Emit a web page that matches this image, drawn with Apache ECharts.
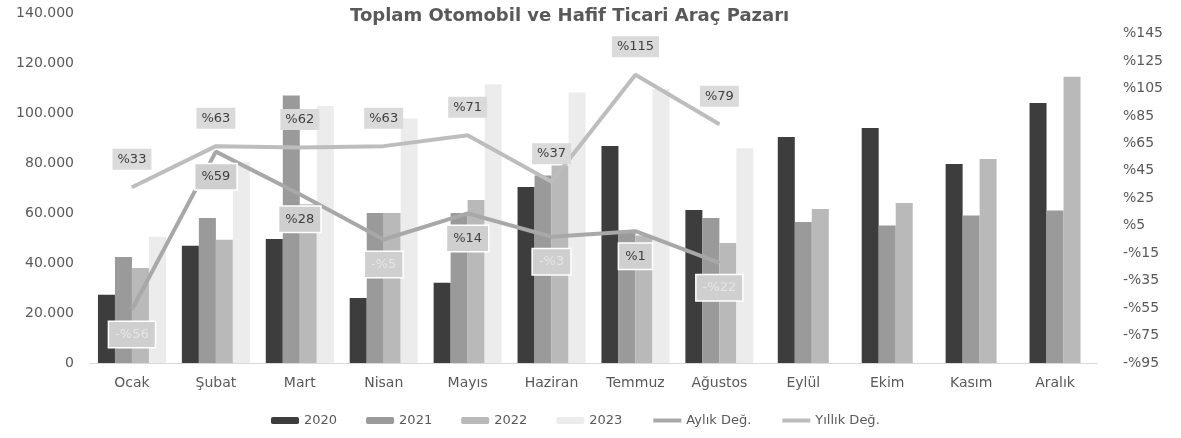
<!DOCTYPE html>
<html>
<head>
<meta charset="utf-8">
<script src="https://cdn.jsdelivr.net/npm/echarts@6/dist/echarts.min.js"></script>
<style>
  html, body { margin: 0; padding: 0; background: #fff; }
  #main { width: 1181px; height: 438px; }
</style>
</head>
<body>
<div id="main"></div>
<script>
var months = ['Ocak', 'Şubat', 'Mart', 'Nisan', 'Mayıs', 'Haziran', 'Temmuz', 'Ağustos', 'Eylül', 'Ekim', 'Kasım', 'Aralık'];

// bar values (adet)
var sales2020 = [27300, 46900, 49600, 26000, 32100, 70400, 86800, 61200, 90400, 94000, 79600, 104000];
var sales2021 = [42400, 58000, 107000, 60000, 60000, 75000, 53000, 58000, 56400, 55000, 59000, 61000];
var sales2022 = [38000, 49300, 63500, 60000, 65200, 79000, 51000, 48000, 61600, 64000, 81600, 114500];
var sales2023 = [50500, 80300, 102800, 97800, 111500, 108200, 109600, 85900];

// degisim yuzdeleri (sag eksen)
var aylikDeg = [-56, 59, 28, -5, 14, -3, 1, -22];
var yillikDeg = [33, 63, 62, 63, 71, 37, 115, 79];

var leftTicks = [0, 20000, 40000, 60000, 80000, 100000, 120000, 140000];
var rightTicks = [-95, -75, -55, -35, -15, 5, 25, 45, 65, 85, 105, 125, 145];

var dom = document.getElementById('main');
var myChart = echarts.init(dom);

var FONT = 'DejaVu Sans';
var splitAt = sales2023.length;

function pct(v) {
    return v < 0 ? '-%' + Math.abs(v) : '%' + v;
}
function thousands(v) {
    return String(v).replace(/\B(?=(\d{3})+(?!\d))/g, '.');
}

var barColors = {'2020': '#3d3d3d', '2021': '#9a9a9a', '2022': '#b9b9b9', '2023': '#ececec'};
var years = [['2020', sales2020], ['2021', sales2021], ['2022', sales2022], ['2023', sales2023]];

var series = [];
// Ocak-Agustos: 4 bar
years.forEach(function (y) {
    series.push({
        name: y[0],
        type: 'bar',
        xAxisIndex: 0,
        barWidth: 17,
        barGap: '0%',
        itemStyle: {color: barColors[y[0]]},
        data: months.map(function (m, i) { return i < splitAt ? y[1][i] : null; })
    });
});
// Eylul-Aralik: 2023 yok, 3 bar ortalanmis
years.slice(0, 3).forEach(function (y) {
    series.push({
        name: y[0],
        type: 'bar',
        xAxisIndex: 1,
        barWidth: 17,
        barGap: '0%',
        itemStyle: {color: barColors[y[0]]},
        data: months.map(function (m, i) { return i >= splitAt ? y[1][i] : null; })
    });
});

series.push({
    name: 'Aylık Değ.',
    type: 'line',
    xAxisIndex: 0,
    yAxisIndex: 1,
    symbol: 'circle',
    symbolSize: 1,
    showSymbol: true,
    z: 5,
    lineStyle: {width: 4, color: '#a8a8a8'},
    itemStyle: {color: '#a8a8a8'},
    label: {
        show: true,
        position: 'bottom',
        distance: 12,
        fontFamily: FONT,
        fontSize: 13,
        color: '#404040',
        backgroundColor: '#cfcfcf',
        borderColor: '#ffffff',
        borderWidth: 1.5,
        padding: [6, 6],
        formatter: function (p) {
            return p.value < 0 ? '{n|' + pct(p.value) + '}' : pct(p.value);
        },
        rich: {n: {color: '#e4e4e4', fontFamily: FONT, fontSize: 13}}
    },
    data: aylikDeg
});

series.push({
    name: 'Yıllık Değ.',
    type: 'line',
    xAxisIndex: 0,
    yAxisIndex: 1,
    symbol: 'circle',
    symbolSize: 1,
    showSymbol: true,
    z: 6,
    lineStyle: {width: 4, color: '#bdbdbd'},
    itemStyle: {color: '#bdbdbd'},
    label: {
        show: true,
        position: 'top',
        distance: 17,
        fontFamily: FONT,
        fontSize: 13,
        color: '#404040',
        backgroundColor: '#dadada',
        padding: [4, 5],
        formatter: function (p) { return pct(p.value); }
    },
    data: yillikDeg
});

var option = {
    backgroundColor: '#ffffff',
    animation: false,
    title: {
        text: 'Toplam Otomobil ve Hafif Ticari Araç Pazarı',
        left: 345,
        top: 2,
        textStyle: {fontFamily: FONT, fontSize: 18, fontWeight: 'bold', color: '#595959'}
    },
    legend: {
        bottom: 6,
        left: 266,
        itemWidth: 28,
        itemHeight: 7,
        itemGap: 29,
        textStyle: {fontFamily: FONT, fontSize: 13, color: '#595959'},
        data: [
            '2020', '2021', '2022', '2023',
            {name: 'Aylık Değ.', itemStyle: {opacity: 0}, lineStyle: {width: 4}},
            {name: 'Yıllık Değ.', itemStyle: {opacity: 0}, lineStyle: {width: 4}}
        ]
    },
    grid: {left: 90, right: 84, top: 13, bottom: 75},
    xAxis: [{
        type: 'category',
        data: months,
        axisLine: {lineStyle: {color: '#d9d9d9'}},
        axisTick: {show: false},
        axisLabel: {fontFamily: FONT, fontSize: 14, color: '#595959', margin: 13}
    }, {
        type: 'category',
        data: months,
        show: false
    }],
    yAxis: [{
        type: 'value',
        min: 0,
        max: 140000,
        interval: 20000,
        splitLine: {show: false},
        axisLine: {show: false},
        axisTick: {show: false},
        axisLabel: {
            fontFamily: FONT, fontSize: 14, color: '#595959', margin: 16,
            customValues: leftTicks,
            formatter: function (v) { return thousands(v); }
        }
    }, {
        type: 'value',
        position: 'right',
        min: -95,
        max: 160,
        splitLine: {show: false},
        axisLine: {show: false},
        axisTick: {show: false},
        axisLabel: {
            fontFamily: FONT, fontSize: 14, color: '#595959', margin: 26,
            customValues: rightTicks,
            formatter: function (v) { return pct(v); }
        }
    }],
    series: series
};

if (option && typeof option === 'object') {
    myChart.setOption(option, true);
}
</script>
</body>
</html>
